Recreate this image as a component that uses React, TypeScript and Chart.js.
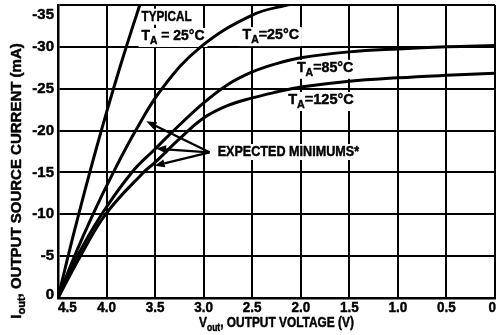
import React, { useEffect, useRef } from 'react';
import { Chart, registerables } from 'chart.js';

Chart.register(...registerables);

const FONT = '"Liberation Sans", Arial, sans-serif';

// ---- data (Vout in volts, Iout in mA) ----
const typicalV = [4.5, 4.396, 4.287, 4.173, 4.054, 3.929, 3.797, 3.658, 3.62];
const typicalI = [0, -5, -10, -15, -20, -25, -30, -35, -36.3];

const min25V = [4.5, 4.33, 4.14, 3.93, 3.7, 3.43, 3.03, 2.5, 2.14, 1.8];
const min25I = [0, -5, -10, -15, -20, -25, -30, -33.8, -35, -35.9];

const min85V = [4.5, 4.3, 4.05, 3.74, 3.5, 3.3, 3.0, 2.75, 2.5, 2.25, 2.0, 1.5, 1.0, 0.5, 0];
const min85I = [0, -5, -10, -15, -17.8, -20.1, -23.3, -25.5, -27.0, -28.0, -28.7, -29.4, -29.75, -30.0, -30.15];

const min125V = [4.5, 4.27, 4.01, 3.62, 3.5, 3.25, 3.0, 2.75, 2.5, 2.25, 2.0, 1.5, 1.0, 0.5, 0];
const min125I = [0, -5, -10, -15, -16.2, -19.0, -21.5, -23.0, -23.9, -24.6, -25.2, -25.9, -26.3, -26.6, -26.85];

const xMin = 0;
const xMax = 4.5;
const xStep = 0.5;
const yMin = -35;
const yMax = 0;
const yStep = 5;

const xTickValues = [0, 0.5, 1.0, 1.5, 2.0, 2.5, 3.0, 3.5, 4.0, 4.5];
const xTickLabels = ['0', '0.5', '1.0', '1.5', '2.0', '2.5', '3.0', '3.5', '4.0', '4.5'];
const yTickValues = [-35, -30, -25, -20, -15, -10, -5, 0];
const yTickLabels = ['-35', '-30', '-25', '-20', '-15', '-10', '-5', '0'];

// ---- annotation texts ----
type Seg = { t: string; sub?: boolean };
const labelTexts: Seg[][] = [
  [{ t: 'TYPICAL' }],
  [{ t: 'T' }, { t: 'A', sub: true }, { t: ' = 25°C' }],
  [{ t: 'T' }, { t: 'A', sub: true }, { t: '=25°C' }],
  [{ t: 'T' }, { t: 'A', sub: true }, { t: '=85°C' }],
  [{ t: 'T' }, { t: 'A', sub: true }, { t: '=125°C' }],
  [{ t: 'EXPECTED MINIMUMS*' }],
];
// anchor (left, vertical centre) in data units
const labelAnchorV = [3.64, 3.64, 2.6, 2.04, 2.13, 2.856];
const labelAnchorI = [-33.6, -31.3, -31.4, -27.5, -23.65, -17.44];
const labelScaleX = [0.78, 0.93, 0.95, 0.95, 0.97, 0.84];

const arrowTail = { v: 2.94, i: -17.4 };
const arrowTipV = [3.59, 3.49, 3.505];
const arrowTipI = [-21.1, -17.85, -15.8];

const yTitle: Seg[] = [{ t: 'I' }, { t: 'out', sub: true }, { t: ', OUTPUT SOURCE CURRENT (mA)' }];
const xTitle: Seg[] = [{ t: 'V' }, { t: 'out', sub: true }, { t: ', OUTPUT VOLTAGE (V)' }];

function toPoints(v: number[], i: number[]) {
  return v.map((x, k) => ({ x, y: i[k] })).sort((a, b) => a.x - b.x);
}

function measureSegs(ctx: CanvasRenderingContext2D, segs: Seg[], size: number, subSize: number) {
  const widths = segs.map((s) => {
    ctx.font = `bold ${s.sub ? subSize : size}px ${FONT}`;
    return ctx.measureText(s.t).width;
  });
  return { widths, total: widths.reduce((a, b) => a + b, 0) };
}

function drawText(
  ctx: CanvasRenderingContext2D,
  segs: Seg[],
  x: number,
  y: number,
  size: number,
  subSize: number,
  subOffset: number,
  scaleX: number,
  align: 'left' | 'center' | 'right'
) {
  const { widths, total } = measureSegs(ctx, segs, size, subSize);
  const w = total * scaleX;
  const sx = align === 'left' ? x : align === 'center' ? x - w / 2 : x - w;
  ctx.save();
  ctx.translate(sx, y);
  ctx.scale(scaleX, 1);
  ctx.textAlign = 'left';
  ctx.textBaseline = 'middle';
  ctx.strokeStyle = '#000';
  ctx.lineWidth = 0.45;
  ctx.lineJoin = 'round';
  let cx = 0;
  segs.forEach((s, k) => {
    ctx.font = `bold ${s.sub ? subSize : size}px ${FONT}`;
    const yy = s.sub ? subOffset : 0;
    ctx.fillText(s.t, cx, yy);
    ctx.strokeText(s.t, cx, yy);
    cx += widths[k];
  });
  ctx.restore();
  return w;
}

const annotationPlugin = {
  id: 'annotations',
  beforeDatasetsDraw(chart: any) {
    const ctx: CanvasRenderingContext2D = chart.ctx;
    const xs = chart.scales.x;
    const ys = chart.scales.y;
    ctx.save();
    ctx.fillStyle = '#fff';
    labelTexts.forEach((segs, k) => {
      const px = xs.getPixelForValue(labelAnchorV[k]);
      const py = ys.getPixelForValue(labelAnchorI[k]);
      const { total } = measureSegs(ctx, segs, 15, 11);
      const hasSub = segs.some((s) => s.sub);
      ctx.fillRect(px - 3, py - 8, total * labelScaleX[k] + 6, hasSub ? 19 : 16);
    });
    ctx.restore();
  },
  afterDatasetsDraw(chart: any) {
    const ctx: CanvasRenderingContext2D = chart.ctx;
    const xs = chart.scales.x;
    const ys = chart.scales.y;
    ctx.save();
    ctx.fillStyle = '#000';
    ctx.strokeStyle = '#000';
    labelTexts.forEach((segs, k) => {
      const px = xs.getPixelForValue(labelAnchorV[k]);
      const py = ys.getPixelForValue(labelAnchorI[k]);
      drawText(ctx, segs, px, py, 15, 11, 5, labelScaleX[k], 'left');
    });
    // arrows
    const tx = xs.getPixelForValue(arrowTail.v);
    const ty = ys.getPixelForValue(arrowTail.i);
    ctx.lineWidth = 2.3;
    arrowTipV.forEach((v, k) => {
      const hx = xs.getPixelForValue(v);
      const hy = ys.getPixelForValue(arrowTipI[k]);
      const ang = Math.atan2(hy - ty, hx - tx);
      const len = 10;
      const hw = 4;
      const bx = hx - Math.cos(ang) * len;
      const by = hy - Math.sin(ang) * len;
      ctx.beginPath();
      ctx.moveTo(tx, ty);
      ctx.lineTo(bx, by);
      ctx.stroke();
      ctx.beginPath();
      ctx.moveTo(hx, hy);
      ctx.lineTo(bx + Math.sin(ang) * hw, by - Math.cos(ang) * hw);
      ctx.lineTo(bx - Math.sin(ang) * hw, by + Math.cos(ang) * hw);
      ctx.closePath();
      ctx.fill();
    });
    ctx.restore();
  },
  afterDraw(chart: any) {
    const ctx: CanvasRenderingContext2D = chart.ctx;
    const area = chart.chartArea;
    const xs = chart.scales.x;
    const ys = chart.scales.y;
    ctx.save();
    ctx.fillStyle = '#000';
    // x tick labels (inner aligned at the ends)
    xTickValues.forEach((v, k) => {
      const px = xs.getPixelForValue(v);
      const txt = [{ t: xTickLabels[k] }];
      const align = k === 0 ? 'right' : k === xTickValues.length - 1 ? 'left' : 'center';
      drawText(ctx, txt, px + (k === 0 ? 1 : 0), area.bottom + 10, 15, 11, 0, 0.9, align as any);
    });
    // y tick labels
    yTickValues.forEach((v, k) => {
      let py = ys.getPixelForValue(v);
      py = Math.min(Math.max(py, area.top + 10), area.bottom - 3);
      drawText(ctx, [{ t: yTickLabels[k] }], area.left - 4, py, 15, 11, 0, 1.0, 'right');
    });
    // x title
    drawText(ctx, xTitle, (area.left + area.right) / 2, 323, 14, 10, 5, 0.85, 'center');
    // y title (rotated)
    ctx.translate(17, 181);
    ctx.rotate(-Math.PI / 2);
    drawText(ctx, yTitle, 0, 0, 15, 11, 5, 1.0, 'center');
    ctx.restore();
  },
};

const lineStyle = {
  borderColor: '#000',
  borderWidth: 3,
  pointRadius: 0,
  fill: false,
  tension: 0.4,
};

export default function App() {
  const ref = useRef<HTMLCanvasElement>(null);
  useEffect(() => {
    if (!ref.current) return;
    const chart = new Chart(ref.current, {
      type: 'line',
      data: {
        datasets: [
          { label: 'Typical 25°C', data: toPoints(typicalV, typicalI), ...lineStyle },
          { label: 'Min 25°C', data: toPoints(min25V, min25I), ...lineStyle },
          { label: 'Min 85°C', data: toPoints(min85V, min85I), ...lineStyle },
          { label: 'Min 125°C', data: toPoints(min125V, min125I), ...lineStyle },
        ],
      },
      options: {
        animation: false,
        responsive: false,
        maintainAspectRatio: false,
        devicePixelRatio: 1,
        layout: { padding: { top: 5, right: 8, left: 0, bottom: 0 } },
        plugins: { legend: { display: false }, tooltip: { enabled: false } },
        scales: {
          x: {
            type: 'linear',
            reverse: true,
            min: xMin,
            max: xMax,
            afterFit: (s: any) => {
              s.height = 37;
            },
            ticks: { stepSize: xStep, display: false },
            grid: { color: '#000', lineWidth: 2, drawTicks: false },
            border: { color: '#000', width: 2.5 },
          },
          y: {
            type: 'linear',
            reverse: true,
            min: yMin,
            max: yMax,
            afterFit: (s: any) => {
              s.width = 58;
            },
            ticks: { stepSize: yStep, display: false },
            grid: { color: '#000', lineWidth: 2, drawTicks: false },
            border: { color: '#000', width: 2.5 },
          },
        },
      } as any,
      plugins: [annotationPlugin],
    });
    return () => chart.destroy();
  }, []);
  return (
    <div style={{ position: 'fixed', left: 0, top: 0, width: 503, height: 335, background: '#fff' }}>
      <canvas ref={ref} width={503} height={335} style={{ width: 503, height: 335, display: 'block' }} />
    </div>
  );
}
